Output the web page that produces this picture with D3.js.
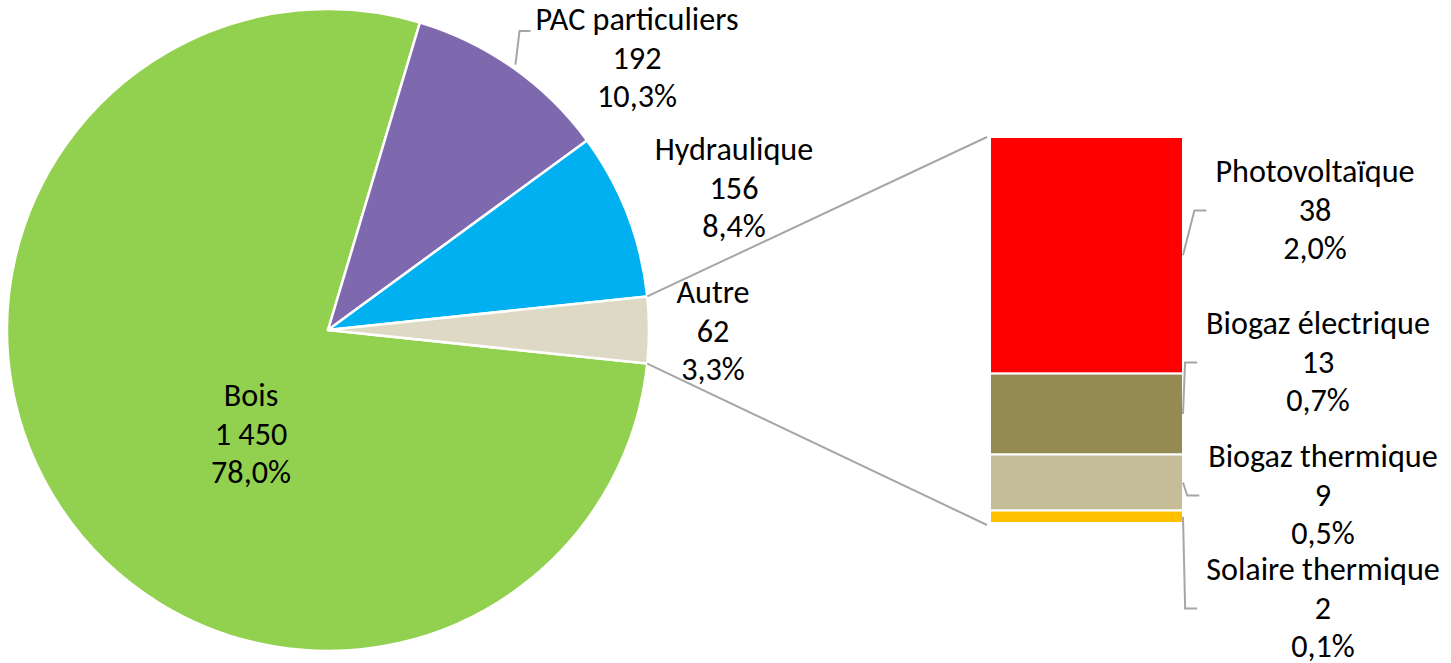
<!DOCTYPE html>
<html>
<head>
<meta charset="utf-8">
<script src="https://cdn.jsdelivr.net/npm/d3@7"></script>
<style>
html,body{margin:0;padding:0;background:#fff;}
svg{display:block;}
text{font-family:Carlito, Lato, "Open Sans", sans-serif;fill:#000;}
</style>
</head>
<body>
<svg id="chart" width="1451" height="663"></svg>
<script>
// ---- data ----
const pieCategories = ["Bois", "PAC particuliers", "Hydraulique", "Autre"];
const pieValues = [1450, 192, 156, 62];
const pieValueLabels = ["1 450", "192", "156", "62"];
const pieColors = ["#92D050", "#7E69AF", "#00B0F0", "#DDD9C4"];

const barCategories = ["Photovoltaïque", "Biogaz électrique", "Biogaz thermique", "Solaire thermique"];
const barValues = [38, 13, 9, 2];
const barValueLabels = ["38", "13", "9", "2"];
const barColors = ["#FF0000", "#948A54", "#C4BD97", "#FFC000"];

// ---- layout ----
const W = 1451, H = 663;
const cx = 328, cy = 330, R = 321;
const barX0 = 990, barX1 = 1183, barTop = 137, barBottom = 523;
const lineGap = 38.5;
const fmtPct = v => (v * 100).toFixed(1).replace(".", ",") + "%";

// label anchors: [center x, first baseline]
const pieLabelPos = [[251, 406], [637, 30], [734, 160], [713, 303]];
const barLabelPos = [[1315, 182], [1318, 334], [1323, 467], [1323, 580]];

const svg = d3.select("#chart");
const total = d3.sum(pieValues);

// font size calibrated to the reference width of "PAC particuliers"
const probe = svg.append("text").attr("font-size", 30).text("PAC particuliers");
const fs = 30 * 203 / probe.node().getComputedTextLength();
probe.remove();

// ---- pie ----
const beforeMid = d3.sum(pieValues.slice(0, 3)) + pieValues[3] / 2;
const startA = Math.PI / 2 - beforeMid / total * 2 * Math.PI;
const pie = d3.pie().sort(null).value(d => d)
  .startAngle(startA).endAngle(startA + 2 * Math.PI);
const arcs = pie(pieValues);
const arc = d3.arc().innerRadius(0).outerRadius(R);

const gPie = svg.append("g").attr("transform", `translate(${cx},${cy})`);
gPie.selectAll("path").data(arcs).join("path")
  .attr("d", arc)
  .attr("fill", (d, i) => pieColors[i])
  .attr("stroke", "#fff").attr("stroke-width", 2.5).attr("stroke-linejoin", "round");

// ---- bar (stacked, first category on top) ----
const y = d3.scaleLinear().domain([0, d3.sum(barValues)]).range([barTop, barBottom]);
const x = d3.scaleBand().domain(["Autre"]).range([barX0, barX1]).padding(0);
let cum = 0;
const stack = barValues.map(v => { const s = { y0: cum, y1: cum + v }; cum += v; return s; });
svg.append("g").selectAll("rect").data(stack).join("rect")
  .attr("x", x("Autre")).attr("width", x.bandwidth())
  .attr("y", d => y(d.y0)).attr("height", d => y(d.y1) - y(d.y0))
  .attr("fill", (d, i) => barColors[i])
  .attr("stroke", "#fff").attr("stroke-width", 2);

// ---- connector lines (pie "Autre" edges -> bar corners) ----
const autre = arcs[3];
const pt = (a, r) => [cx + r * Math.sin(a), cy - r * Math.cos(a)];
const conn = svg.append("g").attr("stroke", "#A6A6A6").attr("stroke-width", 2).attr("fill", "none");
const pA = pt(autre.startAngle, R), pB = pt(autre.endAngle, R);
conn.append("line").attr("x1", pA[0]).attr("y1", pA[1]).attr("x2", x("Autre") - 3).attr("y2", y(0));
conn.append("line").attr("x1", pB[0]).attr("y1", pB[1]).attr("x2", x("Autre") - 3).attr("y2", y(d3.sum(barValues)) + 2);

// ---- labels ----
function label(g, pos, lines) {
  const t = g.append("text").attr("font-size", fs).attr("text-anchor", "middle");
  lines.forEach((s, i) => {
    t.append("tspan").attr("x", pos[0]).attr("y", pos[1] + i * lineGap).text(s);
  });
  return t;
}
const gLab = svg.append("g");
const pieTexts = pieCategories.map((c, i) =>
  label(gLab, pieLabelPos[i], [c, pieValueLabels[i], fmtPct(pieValues[i] / total)]));
const barTexts = barCategories.map((c, i) =>
  label(gLab, barLabelPos[i], [c, barValueLabels[i], fmtPct(barValues[i] / total)]));

// ---- leader lines ----
const leaders = svg.append("g").attr("stroke", "#A6A6A6").attr("stroke-width", 2).attr("fill", "none");
// PAC particuliers
{
  const a = (arcs[1].startAngle + arcs[1].endAngle) / 2;
  const s = pt(a, R + 4);
  const bb = pieTexts[1].node().getBBox();
  const ex = bb.x - 5, ey = pieLabelPos[1][1] + 1;
  leaders.append("polyline").attr("points", [s, [ex - 11, ey], [ex, ey]].map(p => p.join(",")).join(" "));
}
// bar segments
stack.forEach((d, i) => {
  const sy = (y(d.y0) + y(d.y1)) / 2;
  const bb = barTexts[i].node().getBBox();
  const ex = bb.x - 9;
  const ey = barLabelPos[i][1] + lineGap - 10;
  leaders.append("polyline").attr("points",
    [[barX1, sy], [ex - 12, ey], [ex, ey]].map(p => p.join(",")).join(" "));
});
</script>
</body>
</html>
